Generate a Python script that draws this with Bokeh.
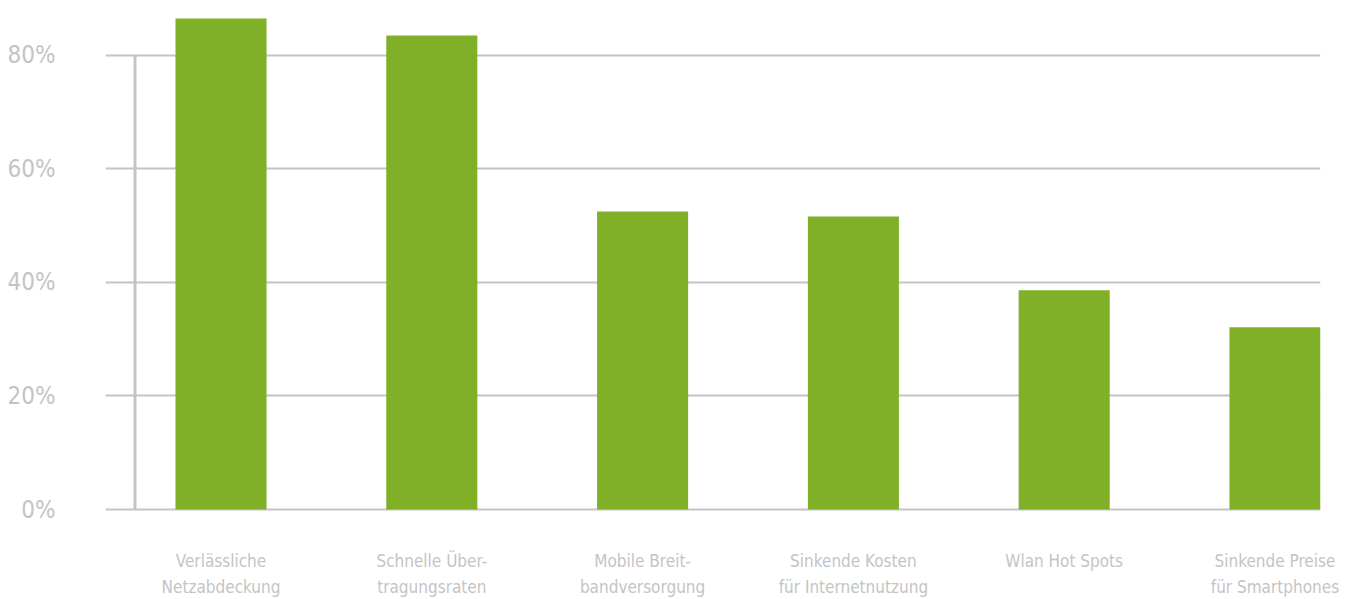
from bokeh.plotting import figure
from bokeh.models import Range1d, FixedTicker, PrintfTickFormatter, ColumnDataSource
from bokeh.embed import file_html
from bokeh.resources import INLINE

categories = [
    "Verlässliche\nNetzabdeckung",
    "Schnelle Über-\ntragungsraten",
    "Mobile Breit-\nbandversorgung",
    "Sinkende Kosten\nfür Internetnutzung",
    "Wlan Hot Spots",
    "Sinkende Preise\nfür Smartphones",
]
values = [86.5, 83.5, 52.5, 51.6, 38.6, 32.1]
y_ticks = [0, 20, 40, 60, 80]

BAR = "#7fb027"
GRID = "#c4c4c4"
LABEL = "#c4c4c4"
FONT = "'DejaVu Sans Condensed', sans-serif"

idx = list(range(len(categories)))

p = figure(
    width=1346, height=599,
    x_range=Range1d(-0.548, 5.216),
    y_range=Range1d(-0.352, 87.9),
    output_backend="svg", toolbar_location=None,
    min_border_left=105, min_border_right=26, min_border_top=10, min_border_bottom=88,
)
p.outline_line_color = None
p.background_fill_color = "white"
p.border_fill_color = "white"

src = ColumnDataSource(dict(x=idx, val=values))
p.vbar(x="x", top="val", bottom=0, width=0.432, source=src, fill_color=BAR, line_color=None)

# vertical axis line inside the frame
p.segment(x0=[-0.408], y0=[0], x1=[-0.408], y1=[y_ticks[-1]], line_color=GRID, line_width=3)

p.xgrid.grid_line_color = None
p.ygrid.grid_line_color = GRID
p.ygrid.grid_line_width = 2
p.ygrid.ticker = FixedTicker(ticks=y_ticks)

p.yaxis.ticker = FixedTicker(ticks=y_ticks)
p.yaxis.formatter = PrintfTickFormatter(format="%d%%")
p.yaxis.axis_line_color = None
p.yaxis.major_tick_line_color = None
p.yaxis.minor_tick_line_color = None
p.yaxis.major_tick_out = 0
p.yaxis.major_label_standoff = 50
p.yaxis.major_label_text_color = LABEL
p.yaxis.major_label_text_font = FONT
p.yaxis.major_label_text_font_size = "24px"

p.xaxis.ticker = FixedTicker(ticks=idx)
p.xaxis.major_label_overrides = {i: c for i, c in zip(idx, categories)}
p.xaxis.axis_line_color = None
p.xaxis.major_tick_line_color = None
p.xaxis.minor_tick_line_color = None
p.xaxis.major_tick_out = 0
p.xaxis.major_label_standoff = 39
p.xaxis.major_label_text_color = LABEL
p.xaxis.major_label_text_font = FONT
p.xaxis.major_label_text_font_size = "17px"
p.xaxis.major_label_text_line_height = 1.3

open("out.html", "w").write(file_html(p, INLINE))
